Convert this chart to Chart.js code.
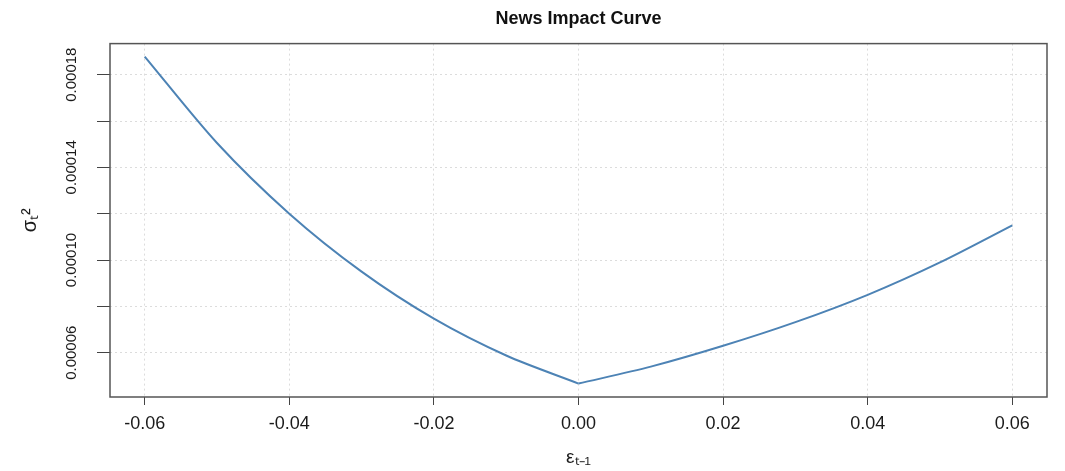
<!DOCTYPE html>
<html>
<head>
<meta charset="utf-8">
<script src="https://cdn.jsdelivr.net/npm/chart.js@4"></script>
<style>
  body { margin: 0; background: #fff; }
  #wrap { width: 1065px; height: 471px; }
</style>
</head>
<body>
<div id="wrap"><canvas id="nic"></canvas></div>
<script>
// news impact curve
const eps = [-0.06, -0.05, -0.04, -0.03, -0.02, -0.01, 0.00, 0.01, 0.02, 0.03, 0.04, 0.05, 0.06];
const sigma2 = [0.0001878, 0.0001505, 0.0001200, 0.0000950, 0.0000747, 0.0000588, 0.0000467,
                0.0000540, 0.0000630, 0.0000732, 0.0000850, 0.0000990, 0.0001150];

const xTicks = [-0.06, -0.04, -0.02, 0, 0.02, 0.04, 0.06];
const xTickLabels = ['-0.06', '-0.04', '-0.02', '0.00', '0.02', '0.04', '0.06'];
const yTicks = [0.00006, 0.00008, 0.00010, 0.00012, 0.00014, 0.00016, 0.00018];
const yTickLabels = ['0.00006', '', '0.00010', '', '0.00014', '', '0.00018'];

const pts = eps.map((x, i) => ({ x: x, y: sigma2[i] }));
const mid = eps.indexOf(0);

const lineColor = '#4d83b5';
const fontFam = "'Liberation Sans', Arial, sans-serif";

// R style box around the plot region
const boxPlugin = {
    id: 'box',
    afterDraw(chart) {
        const a = chart.chartArea;
        const ctx = chart.ctx;
        ctx.save();
        ctx.strokeStyle = '#555';
        ctx.lineWidth = 1.5;
        ctx.strokeRect(a.left, a.top, a.right - a.left, a.bottom - a.top);
        ctx.restore();
    }
};

let ctx = document.getElementById('nic').getContext('2d');
new Chart(ctx, {
    type: 'line',
    data: {
        datasets: [
            {
                data: pts.slice(0, mid + 1),
                borderColor: lineColor,
                borderWidth: 2,
                pointRadius: 0,
                tension: 0.3
            },
            {
                data: pts.slice(mid),
                borderColor: lineColor,
                borderWidth: 2,
                pointRadius: 0,
                tension: 0.3
            }
        ]
    },
    options: {
        responsive: true,
        maintainAspectRatio: false,
        animation: false,
        layout: { padding: { right: 18 } },
        plugins: {
            legend: { display: false },
            tooltip: { enabled: false },
            title: {
                display: true,
                fullSize: false,
                text: 'News Impact Curve',
                color: '#111',
                font: { family: fontFam, size: 18, weight: 'bold' },
                padding: { top: 8, bottom: 14 }
            }
        },
        scales: {
            x: {
                type: 'linear',
                min: -0.0648,
                max: 0.0648,
                afterBuildTicks: s => { s.ticks = xTicks.map(v => ({ value: v })); },
                afterFit: s => { s.height = 74; },
                ticks: {
                    callback: (v, i) => xTickLabels[i],
                    color: '#1a1a1a',
                    font: { family: fontFam, size: 18 },
                    padding: 8,
                    maxRotation: 0
                },
                grid: { color: '#dcdcdc', tickColor: '#444', tickLength: 8, lineWidth: 1 },
                border: { display: false, dash: [2, 3] },
                title: {
                    display: true,
                    text: 'εₜ₋₁',
                    color: '#1a1a1a',
                    font: { family: fontFam, size: 19 },
                    padding: { top: 0, bottom: 2 }
                }
            },
            y: {
                type: 'linear',
                min: 0.0000409,
                max: 0.0001934,
                afterBuildTicks: s => { s.ticks = yTicks.map(v => ({ value: v })); },
                afterFit: s => { s.width = 110; },
                ticks: {
                    callback: (v, i) => yTickLabels[i],
                    color: '#1a1a1a',
                    font: { family: fontFam, size: 15 },
                    minRotation: 90,
                    maxRotation: 90,
                    crossAlign: 'center',
                    padding: -2
                },
                grid: { color: '#dcdcdc', tickColor: '#444', tickLength: 13, lineWidth: 1 },
                border: { display: false, dash: [2, 3] },
                title: {
                    display: true,
                    text: 'σₜ²',
                    color: '#1a1a1a',
                    font: { family: fontFam, size: 20 },
                    padding: { top: 18 }
                }
            }
        }
    },
    plugins: [boxPlugin]
});
</script>
</body>
</html>
